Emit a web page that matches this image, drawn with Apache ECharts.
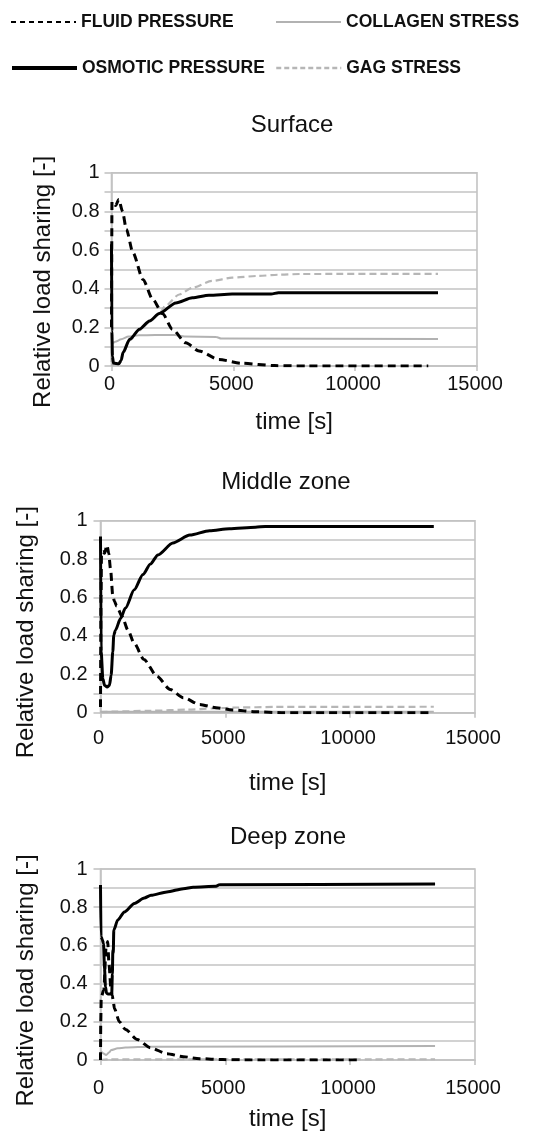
<!DOCTYPE html>
<html>
<head>
<meta charset="utf-8">
<script src="https://cdn.jsdelivr.net/npm/echarts@6/dist/echarts.min.js"></script>
<style>
  html, body { margin: 0; padding: 0; background: #ffffff; }
  #chart { width: 541px; height: 1132px; }
</style>
</head>
<body>
<div id="chart"></div>
<script>
// Relative load sharing over time, [time (s), share] pairs per zone and component.
const seriesNames = ['FLUID PRESSURE', 'COLLAGEN STRESS', 'OSMOTIC PRESSURE', 'GAG STRESS'];
const panelTitles = ['Surface', 'Middle zone', 'Deep zone'];
const yTickLabels = ['0', '0.2', '0.4', '0.6', '0.8', '1'];
const xTickLabels = ['0', '5000', '10000', '15000'];

const surfaceFluid = [[0,0.2],[20,0.85],[80,0.84],[170,0.83],[300,0.862],[450,0.80],[610,0.707],[880,0.586],[1290,0.448],[1690,0.345],[2100,0.27],[2500,0.19],[3050,0.12],[3590,0.078],[4400,0.034],[5350,0.014],[6700,0.002],[8000,0],[13000,0]];
const surfaceCollagen = [[0,0.02],[15,0.13],[60,0.12],[150,0.125],[400,0.138],[700,0.152],[1100,0.159],[1800,0.16],[2600,0.16],[3000,0.152],[4300,0.15],[4500,0.142],[13400,0.14]];
const surfaceOsmotic = [[0,0.63],[15,0.18],[40,0.05],[80,0.015],[300,0.012],[400,0.03],[474,0.07],[745,0.138],[1150,0.19],[1560,0.233],[1965,0.272],[2640,0.326],[3320,0.353],[4000,0.366],[4950,0.372],[6550,0.372],[6850,0.379],[13400,0.379]];
const surfaceGag = [[0,0.0],[100,0.01],[350,0.012],[474,0.065],[745,0.133],[1150,0.185],[1560,0.228],[1965,0.27],[2200,0.31],[2780,0.37],[3320,0.405],[4130,0.44],[4950,0.457],[6030,0.466],[6850,0.472],[7800,0.476],[13400,0.477]];

const middleFluid = [[0,0.03],[20,0.6],[40,0.83],[100,0.84],[160,0.83],[260,0.872],[330,0.83],[400,0.75],[492,0.61],[560,0.58],[650,0.555],[870,0.5],[1100,0.43],[1342,0.363],[1740,0.277],[2260,0.19],[2790,0.121],[3320,0.078],[3970,0.043],[4630,0.026],[5290,0.014],[6210,0.005],[7260,0],[13300,0]];
const middleCollagen = [[0,0.005],[13350,0.005]];
const middleOsmotic = [[0,0.918],[27,0.317],[93,0.178],[160,0.143],[266,0.134],[359,0.143],[426,0.195],[492,0.317],[532,0.404],[600,0.43],[800,0.49],[1000,0.545],[1350,0.64],[1700,0.72],[2000,0.775],[2300,0.822],[2900,0.884],[3580,0.925],[4368,0.948],[5158,0.958],[6210,0.966],[6600,0.97],[13350,0.97]];
const middleGag = [[0,0.003],[600,0.006],[2000,0.01],[3500,0.016],[4500,0.022],[5500,0.027],[7000,0.03],[13350,0.031]];

const deepFluid = [[0,0],[10,0.2],[30,0.33],[130,0.366],[226,0.593],[290,0.62],[340,0.5],[426,0.36],[470,0.34],[520,0.3],[557,0.27],[757,0.2],[1000,0.16],[1474,0.107],[2000,0.064],[2660,0.033],[3320,0.017],[3970,0.007],[4900,0.002],[6000,0],[10350,0]];
const deepCollagen = [[0,0.0],[20,0.044],[100,0.035],[226,0.026],[350,0.04],[426,0.052],[690,0.061],[1000,0.065],[2000,0.07],[13400,0.073]];
const deepOsmotic = [[0,0.916],[20,0.646],[80,0.628],[120,0.61],[160,0.48],[200,0.384],[240,0.35],[300,0.345],[450,0.345],[475,0.45],[495,0.576],[512,0.56],[532,0.68],[690,0.733],[955,0.775],[1356,0.82],[1755,0.848],[2021,0.862],[2660,0.88],[3320,0.897],[3710,0.905],[4630,0.91],[4760,0.918],[13400,0.921]];
const deepGag = [[0,0],[300,0.003],[13400,0.004]];

const panelData = [
  [surfaceFluid, surfaceCollagen, surfaceOsmotic, surfaceGag],
  [middleFluid, middleCollagen, middleOsmotic, middleGag],
  [deepFluid, deepCollagen, deepOsmotic, deepGag]
];

const FONT = "'Liberation Sans', Arial, sans-serif";
const GRID_GRAY = '#c3c3c3';

const lineStyles = {
  'FLUID PRESSURE':   { color: '#000000', width: 3,   type: [8, 5], z: 4 },
  'COLLAGEN STRESS':  { color: '#b2b2b2', width: 2,   type: 'solid', z: 2 },
  'OSMOTIC PRESSURE': { color: '#000000', width: 3,   type: 'solid', z: 3 },
  'GAG STRESS':       { color: '#b6b6b6', width: 2.2, type: [7, 4], z: 1 }
};

// Plot boxes and text offsets for the three stacked panels
const layout = [
  { left: 111.5, top: 172.7, height: 193.3, right: 64, yMargin: 12, xMargin: 8,  xNameGap: 44, yNameGap: 56, yNamePad: 25, titleX: 292, titleY: 125 },
  { left: 100.5, top: 520.7, height: 192,   right: 66, yMargin: 13, xMargin: 16, xNameGap: 59, yNameGap: 62, yNamePad: 31, titleX: 286, titleY: 482 },
  { left: 100.5, top: 869,   height: 191.7, right: 66, yMargin: 13, xMargin: 18, xNameGap: 47, yNameGap: 62, yNamePad: 32, titleX: 288, titleY: 837 }
];

const grids = [], xAxes = [], yAxes = [], series = [], graphics = [];

layout.forEach((p, i) => {
  grids.push({
    left: p.left, right: p.right, top: p.top, height: p.height,
    show: true, borderColor: GRID_GRAY, borderWidth: 1.6, backgroundColor: 'transparent'
  });
  xAxes.push({
    type: 'value', gridIndex: i, min: 0, max: 15000, interval: 5000,
    name: 'time [s]', nameLocation: 'middle', nameGap: p.xNameGap,
    nameTextStyle: { fontFamily: FONT, fontSize: 24, color: '#111' },
    axisLine: { show: true, lineStyle: { color: GRID_GRAY, width: 1.6 } },
    axisTick: { show: true, length: 5, lineStyle: { color: GRID_GRAY, width: 1.6 } },
    splitLine: { show: false },
    axisLabel: {
      margin: p.xMargin, fontFamily: FONT, fontSize: 20, color: '#111',
      padding: [0, 4, 0, 0],
      formatter: v => xTickLabels[Math.round(v / 5000)] ?? ''
    }
  });
  yAxes.push({
    type: 'value', gridIndex: i, min: 0, max: 1, interval: 0.1,
    name: 'Relative load sharing [-]', nameLocation: 'middle', nameGap: p.yNameGap,
    nameTextStyle: { fontFamily: FONT, fontSize: 24, color: '#111', padding: [0, p.yNamePad, 0, 0] },
    axisLine: { show: true, lineStyle: { color: GRID_GRAY, width: 1.6 } },
    axisTick: { show: true, length: 7, lineStyle: { color: GRID_GRAY, width: 1.6 } },
    splitLine: { show: true, lineStyle: { color: GRID_GRAY, width: 1.6 } },
    axisLabel: {
      margin: p.yMargin, fontFamily: FONT, fontSize: 20, color: '#111',
      formatter: v => {
        const k = Math.round(v * 10);
        return k % 2 === 0 ? yTickLabels[k / 2] : '';
      }
    }
  });
  seriesNames.forEach((name, s) => {
    const st = lineStyles[name];
    series.push({
      name, type: 'line', xAxisIndex: i, yAxisIndex: i,
      data: panelData[i][s],
      symbol: 'none', smooth: 0.25, smoothMonotone: 'x', z: st.z,
      animation: false,
      lineStyle: { color: st.color, width: st.width, type: st.type, cap: 'butt' },
      itemStyle: { color: st.color }
    });
  });
  graphics.push({
    type: 'text', x: p.titleX, y: p.titleY,
    style: {
      text: panelTitles[i], font: '24px ' + FONT, fill: '#111',
      textAlign: 'center', textVerticalAlign: 'middle', align: 'center', verticalAlign: 'middle'
    }
  });
});

// Legend: two rows, two entries each; line-only keys
const legendPos = [
  { name: 'FLUID PRESSURE',   left: 10,  top: 13, lineStyle: { width: 2, type: [5, 4] } },
  { name: 'COLLAGEN STRESS',  left: 275, top: 13, lineStyle: { width: 2, type: 'solid' } },
  { name: 'OSMOTIC PRESSURE', left: 10,  top: 59, lineStyle: { width: 4, type: 'solid' } },
  { name: 'GAG STRESS',       left: 275, top: 59, lineStyle: { width: 2.5, type: [5, 3] } }
];
const legends = legendPos.map(l => ({
  left: l.left, top: l.top, itemWidth: 65, itemHeight: 14, padding: 0,
  selectedMode: false,
  textStyle: { fontFamily: FONT, fontSize: 17.5, fontWeight: 'bold', color: '#111' },
  data: [{
    name: l.name,
    lineStyle: l.lineStyle,
    itemStyle: { color: 'rgba(0,0,0,0)', borderColor: 'rgba(0,0,0,0)', borderWidth: 0, opacity: 0 }
  }]
}));

const chart = echarts.init(document.getElementById('chart'), null, { renderer: 'canvas' });
chart.setOption({
  backgroundColor: '#ffffff',
  animation: false,
  legend: legends,
  grid: grids,
  xAxis: xAxes,
  yAxis: yAxes,
  series: series,
  graphic: graphics
});
</script>
</body>
</html>
